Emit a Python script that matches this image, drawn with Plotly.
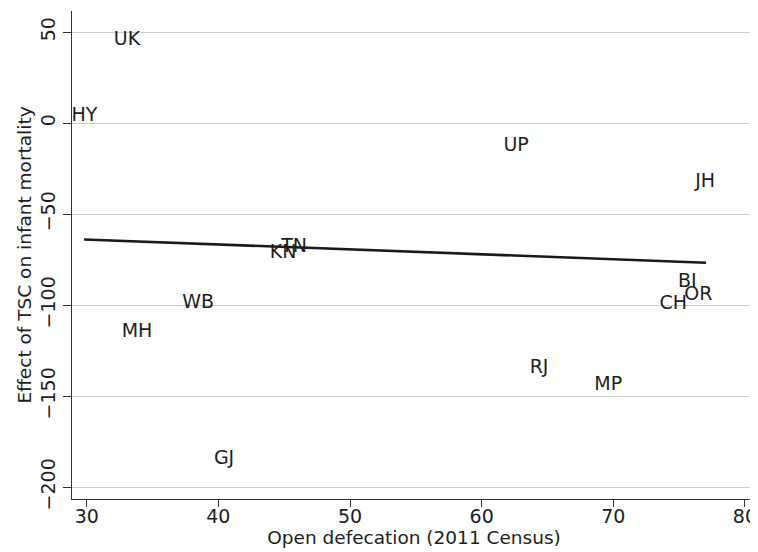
import plotly.graph_objects as go

states = ["UK", "HY", "UP", "JH", "KN", "TN", "BI", "OR", "CH", "WB", "MH", "RJ", "MP", "GJ"]
open_def = [33.06, 29.83, 62.62, 76.98, 44.92, 45.75, 75.62, 76.46, 74.55, 38.46, 33.82, 64.36, 69.61, 40.43]
effect = [45.3, 3.9, -12.8, -32.4, -71.5, -68.2, -87.2, -94.4, -99.4, -98.9, -115.1, -134.6, -144.1, -184.9]

fit_x = [29.8, 77.05]
fit_y = [-63.9, -76.7]

x_ticks = [30, 40, 50, 60, 70, 80]
y_ticks = [50, 0, -50, -100, -150, -200]
y_tick_text = ["50", "0", "\u221250", "\u2212100", "\u2212150", "\u2212200"]

FONT = "DejaVu Sans"
TXT = "#1e1e1e"

fig = go.Figure()
fig.add_trace(go.Scatter(x=fit_x, y=fit_y, mode="lines",
                         line=dict(color="#1a1a1a", width=2.6), hoverinfo="skip"))
fig.add_trace(go.Scatter(x=open_def, y=effect, mode="text", text=states,
                         textposition="middle center",
                         textfont=dict(family=FONT, size=19, color=TXT)))

# page body has an 8px margin: figure is placed at (8, 8)
fig.update_layout(
    width=750, height=544,
    margin=dict(l=64, r=2, t=3, b=53),
    paper_bgcolor="white", plot_bgcolor="white",
    showlegend=False,
    font=dict(family=FONT, size=19, color=TXT),
    xaxis=dict(range=[28.88, 80.84], tickvals=x_ticks, ticks="outside", ticklen=7,
               tickwidth=1.3, tickcolor="#333", showline=True, linecolor="#333",
               linewidth=1.3, showgrid=False, zeroline=False, automargin=False,
               ticklabelstandoff=-7,
               tickfont=dict(family=FONT, size=19, color=TXT),
               title=dict(text="Open defecation (2011 Census)", standoff=0,
                          font=dict(family=FONT, size=18.5, color=TXT))),
    yaxis=dict(range=[-206.5, 61.6], tickvals=y_ticks, ticktext=y_tick_text,
               tickangle=-90, ticks="outside", ticklen=8, tickwidth=1.3,
               tickcolor="#333", showline=True, linecolor="#333", linewidth=1.3,
               showgrid=True, gridcolor="#cccccc", gridwidth=1.3, zeroline=False,
               automargin=False,
               tickfont=dict(family=FONT, size=19, color=TXT),
               title=dict(text="Effect of TSC on infant mortality", standoff=0,
                          font=dict(family=FONT, size=18.5, color=TXT))),
)

fig.write_html("out.html")
